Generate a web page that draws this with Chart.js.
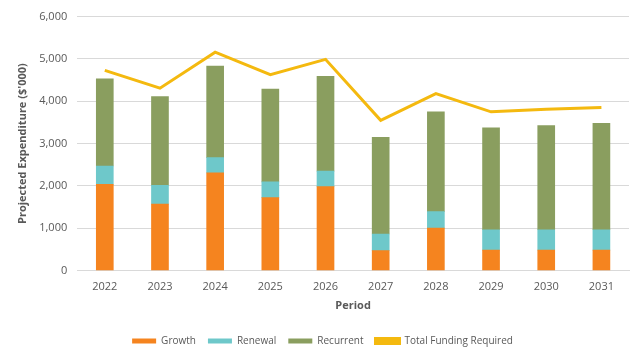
<!DOCTYPE html>
<html>
<head>
<meta charset="utf-8">
<script src="https://cdn.jsdelivr.net/npm/chart.js@4"></script>
<style>
  html, body { margin: 0; padding: 0; background: #fff; }
  canvas { display: block; }
</style>
</head>
<body>
<canvas id="chart" width="644" height="360"></canvas>
<script>
const periods = ['2022', '2023', '2024', '2025', '2026', '2027', '2028', '2029', '2030', '2031'];
const growth = [2040, 1570, 2310, 1725, 1985, 470, 1005, 485, 485, 485];
const renewal = [430, 445, 360, 370, 365, 395, 390, 480, 480, 480];
const recurrent = [2060, 2095, 2160, 2195, 2240, 2285, 2355, 2405, 2460, 2515];
const totalFunding = [4730, 4310, 5160, 4630, 4990, 3550, 4180, 3750, 3810, 3850];

const FONT = "'Open Sans', 'Liberation Sans', sans-serif";
const TEXT = '#595959';

const bar = (label, data, color) => ({
  type: 'bar', label, data,
  backgroundColor: color, borderWidth: 0,
  barThickness: 17, stack: 'spend', order: 2,
});

new Chart(document.getElementById('chart'), {
  data: {
    labels: periods,
    datasets: [
      bar('Growth', growth, '#F5841F'),
      bar('Renewal', renewal, '#6EC8CA'),
      bar('Recurrent', recurrent, '#8A9E5F'),
      {
        type: 'line', label: 'Total Funding Required', data: totalFunding,
        borderColor: '#F4B90F', backgroundColor: '#F4B90F',
        borderWidth: 3, pointRadius: 0, tension: 0, order: 1,
      },
    ],
  },
  options: {
    responsive: false,
    animation: false,
    layout: { padding: { top: 8, right: 15, left: 16, bottom: 4 } },
    scales: {
      x: {
        stacked: true,
        grid: { display: false },
        border: { color: '#d9d9d9' },
        ticks: { color: TEXT, font: { family: FONT, size: 11 }, padding: 2 },
        title: { display: true, text: 'Period', color: TEXT,
                 font: { family: FONT, size: 11, weight: 'bold' }, padding: { top: 3, bottom: 12 } },
      },
      y: {
        stacked: true,
        min: 0, max: 6000,
        ticks: { stepSize: 1000, color: TEXT, font: { family: FONT, size: 11 }, padding: 10,
                 callback: v => v.toLocaleString('en-US') },
        grid: { color: '#d9d9d9', drawTicks: false },
        border: { display: false },
        title: { display: true, text: "Projected Expenditure ($'000)", color: TEXT,
                 font: { family: FONT, size: 11, weight: 'bold' }, padding: { top: 0, bottom: 0 } },
      },
    },
    plugins: {
      legend: {
        position: 'bottom',
        labels: {
          color: TEXT, font: { family: FONT, size: 10 },
          boxWidth: 24, boxHeight: 5, padding: 12,
          sort: (a, b) => a.datasetIndex - b.datasetIndex,
        },
      },
      tooltip: { enabled: false },
    },
  },
});
</script>
</body>
</html>
